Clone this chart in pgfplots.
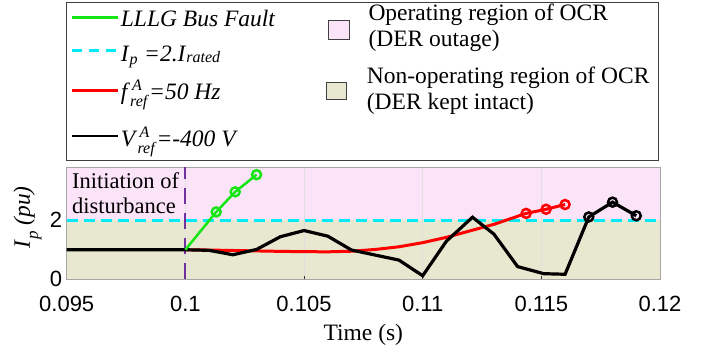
\documentclass[border=0pt]{standalone}
\usepackage{fontspec}
\setmainfont{Liberation Serif}
\newfontfamily\arial{Liberation Sans}
\usepackage{pgfplots}
\pgfplotsset{compat=1.18}
\definecolor{pinkbg}{RGB}{252,228,248}
\definecolor{olivebg}{RGB}{232,232,208}
\definecolor{mygreen}{RGB}{20,230,20}
\definecolor{mycyan}{RGB}{0,235,245}
\definecolor{mypurple}{RGB}{112,48,160}
\newcommand{\legfont}{\fontsize{23.5bp}{27bp}\selectfont}
\newcommand{\lo}[2]{\raisebox{#1}{\fontsize{16bp}{18bp}\selectfont\textit{#2}}}
\begin{document}
\begin{tikzpicture}
\path (0,0) rectangle (702bp,351bp);
\begin{axis}[
 set layers,
 scale only axis, width=593.3bp, height=112.3bp,
 at={(66.7bp,71.7bp)}, anchor=south west,
 xmin=0.095, xmax=0.12, ymin=0, ymax=3.8,
 xtick={0.095,0.1,0.105,0.11,0.115,0.12},
 xticklabels={0.095,0.1,0.105,0.11,0.115,0.12},
 ytick={0,2}, yticklabels={0,2},
 xmajorgrids, grid style={gray!25, line width=0.6bp},
 axis line style={gray!70, line width=0.6bp},
 tick align=inside, major tick length=3bp, tick style={black!80, line width=0.6bp},
 xtick pos=bottom, ytick pos=left,
 tick label style={font=\fontsize{22bp}{26bp}\selectfont\arial, inner sep=0pt},
 /pgf/number format/assume math mode=true,
 xticklabel style={anchor=north, yshift=-17bp},
 yticklabel style={anchor=east, xshift=-4.5bp},
 xlabel={Time (s)},
 xlabel style={font=\fontsize{23.5bp}{27bp}\selectfont, at={(axis description cs:0.5,-0.543)}, anchor=base},
 ylabel={\textit{I}\raisebox{-8bp}{\fontsize{17bp}{19bp}\selectfont\textit{p}} \textit{(pu)}},
 ylabel style={font=\fontsize{23.5bp}{27bp}\selectfont, at={(axis description cs:-0.062,0.55)}, anchor=base},
]
\addplot[fill=pinkbg, draw=none, mark=none, on layer=axis background, forget plot] coordinates {(0.095,2) (0.12,2) (0.12,3.8) (0.095,3.8)} -- cycle;
\addplot[fill=olivebg, draw=none, mark=none, on layer=axis background, forget plot] coordinates {(0.095,0) (0.12,0) (0.12,2) (0.095,2)} -- cycle;
\addplot[mycyan, line width=3bp, dash pattern=on 11bp off 6bp, mark=none] coordinates {(0.095,2) (0.12,2)};
\addplot[mypurple, line width=2bp, dash pattern=on 16bp off 9bp, mark=none] coordinates {(0.1,0) (0.1,3.8)};
% red
\addplot[red, line width=3bp, mark=o, mark size=4.5bp, mark indices={15,16,17}, mark options={line width=2.5bp, solid}] coordinates {
(0.100,1.00) (0.101,0.99) (0.102,0.975) (0.103,0.96) (0.104,0.945) (0.105,0.935) (0.106,0.93) (0.107,0.95) (0.108,1.01) (0.109,1.10) (0.110,1.24) (0.111,1.42) (0.112,1.64) (0.113,1.86) (0.11436,2.23) (0.1152,2.37) (0.1160,2.53)};
% black
\addplot[black, line width=3.2bp, mark=o, mark size=4.5bp, mark indices={19,20,21}, mark options={line width=2.5bp, solid}] coordinates {
(0.095,1.0) (0.100,1.0) (0.101,0.98) (0.102,0.83) (0.103,1.01) (0.104,1.44) (0.105,1.65) (0.106,1.46) (0.107,0.99) (0.108,0.82) (0.109,0.65) (0.110,0.12) (0.111,1.29) (0.1121,2.10) (0.113,1.53) (0.114,0.43) (0.1151,0.19) (0.1160,0.17) (0.1170,2.11) (0.1180,2.61) (0.1190,2.15)};
% green
\addplot[mygreen, line width=2.5bp, mark=o, mark size=4.5bp, mark indices={2,3,4}, mark options={line width=2.5bp, solid}] coordinates {
(0.100,1.0) (0.1013,2.28) (0.1021,2.96) (0.1030,3.54)};
\node[anchor=base west, inner sep=0pt, xshift=5.3bp, font=\fontsize{22.5bp}{27bp}\selectfont] at (axis cs:0.095,3.085) {Initiation of};
\node[anchor=base west, inner sep=0pt, xshift=5.3bp, font=\fontsize{22.5bp}{27bp}\selectfont] at (axis cs:0.095,2.227) {disturbance};
\end{axis}
% legend box
\draw[gray!50!black, line width=0.8bp] (66.7bp,191bp) rectangle (658bp,349bp);
\draw[mygreen, line width=2.5bp] (71.7bp,333.7bp) -- (118.3bp,333.7bp);
\node[anchor=base west, inner sep=0pt, font=\legfont] at (120.7bp,324.3bp) {\textit{LLLG Bus Fault}};
\draw[mycyan, line width=2.5bp, dash pattern=on 10bp off 7bp] (71.7bp,300.3bp) -- (118.3bp,300.3bp);
\node[anchor=base west, inner sep=0pt, font=\legfont] at (120.7bp,289.3bp) {\textit{I}\lo{-3bp}{p}\;\textit{=2.I}\lo{-1bp}{rated}};
\draw[red, line width=2.5bp] (71.7bp,260.3bp) -- (118.3bp,260.3bp);
\node[anchor=base west, inner sep=0pt, font=\legfont] at (120.7bp,251bp) {\textit{f}\rlap{\kern2bp\lo{9bp}{A}}\lo{-7bp}{ref}\textit{=50 Hz}};
\draw[black, line width=2.5bp] (71.7bp,215bp) -- (118.3bp,215bp);
\node[anchor=base west, inner sep=0pt, font=\legfont] at (120.7bp,204.3bp) {\textit{V}\rlap{\kern2bp\lo{9bp}{A}}\lo{-7bp}{ref}\textit{=-400 V}};
\draw[fill=pinkbg, draw=gray!50!black, line width=0.8bp] (328.3bp,311.7bp) rectangle (349.3bp,330.3bp);
\node[anchor=base west, inner sep=0pt, font=\fontsize{23.5bp}{28bp}\selectfont] at (368.3bp,330.3bp) {Operating region of OCR};
\node[anchor=base west, inner sep=0pt, font=\fontsize{23.5bp}{28bp}\selectfont] at (368.3bp,304.3bp) {(DER outage)};
\draw[fill=olivebg, draw=gray!50!black, line width=0.8bp] (326.7bp,251.7bp) rectangle (346.7bp,268.3bp);
\node[anchor=base west, inner sep=0pt, font=\fontsize{23.5bp}{28bp}\selectfont] at (366.7bp,267.7bp) {Non-operating region of OCR};
\node[anchor=base west, inner sep=0pt, font=\fontsize{23.5bp}{28bp}\selectfont] at (366.7bp,241bp) {(DER kept intact)};
\end{tikzpicture}
\end{document}
